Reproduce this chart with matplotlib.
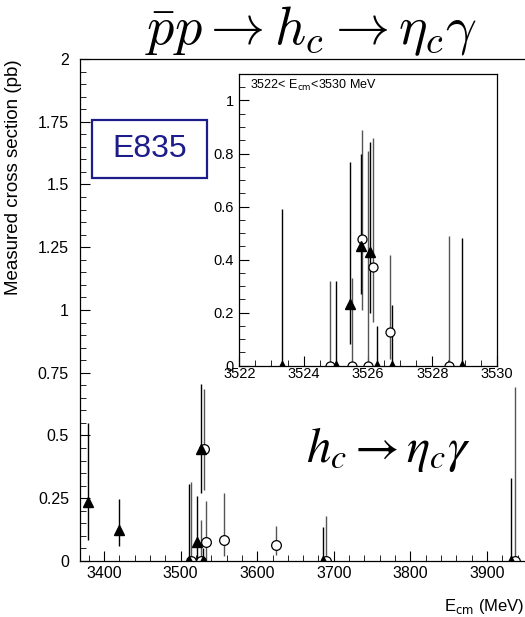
import numpy as np
import matplotlib
matplotlib.use("Agg")
import matplotlib.pyplot as plt
from matplotlib.patches import Rectangle
from matplotlib.ticker import MultipleLocator, FuncFormatter

plt.rcParams['font.family'] = ['Liberation Sans', 'DejaVu Sans']
plt.rcParams['mathtext.fontset'] = 'cm'

# main plot, filled triangles: energy, value, error low, error high
tri_x = [3379.5, 3420, 3511, 3521, 3526.5, 3528.6, 3686, 3931]
tri_y = [0.236, 0.124, 0.0, 0.077, 0.446, 0.0, 0.0, 0.0]
tri_lo = [0.084, 0.061, 0.0, 0.0, 0.27, 0.0, 0.0, 0.0]
tri_hi = [0.549, 0.247, 0.307, 0.259, 0.705, 0.05, 0.137, 0.33]

# main plot, open circles
circ_x = [3514, 3526, 3530, 3533, 3557, 3625, 3690, 3937]
circ_y = [0.0, 0.0, 0.446, 0.074, 0.084, 0.062, 0.0, 0.0]
circ_lo = [0.0, 0.0, 0.283, 0.0, 0.02, 0.024, 0.0, 0.0]
circ_hi = [0.313, 0.163, 0.684, 0.24, 0.27, 0.139, 0.18, 0.694]

# inset 3522-3530 MeV, filled triangles
itri_x = [3523.32, 3524.99, 3525.44, 3525.77, 3526.06, 3526.27, 3526.75, 3528.93]
itri_y = [0.0, 0.0, 0.231, 0.45, 0.429, 0.0, 0.0, 0.0]
itri_lo = [0.0, 0.0, 0.08, 0.27, 0.2, 0.0, 0.0, 0.0]
itri_hi = [0.59, 0.32, 0.768, 0.797, 0.843, 0.15, 0.23, 0.482]

# inset, open circles
icirc_x = [3524.82, 3525.49, 3525.81, 3526.0, 3526.15, 3526.69, 3528.53]
icirc_y = [0.0, 0.0, 0.479, 0.0, 0.373, 0.128, 0.0]
icirc_lo = [0.0, 0.0, 0.21, 0.0, 0.166, 0.026, 0.0]
icirc_hi = [0.32, 0.33, 0.89, 0.81, 0.858, 0.417, 0.488]


def draw(ax, tx, ty, tlo, thi, cx, cy, clo, chi, ms):
    tx, ty, tlo, thi = map(np.array, (tx, ty, tlo, thi))
    cx, cy, clo, chi = map(np.array, (cx, cy, clo, chi))
    ax.errorbar(cx, cy, yerr=[cy - clo, chi - cy], fmt='none',
                ecolor='#555555', elinewidth=1.0, capsize=0)
    ax.errorbar(tx, ty, yerr=[ty - tlo, thi - ty], fmt='none',
                ecolor='black', elinewidth=1.0, capsize=0)
    ax.plot(cx, cy, 'o', ms=ms, mfc='white', mec='black', mew=0.9, ls='none')
    ax.plot(tx, ty, '^', ms=ms, color='black', ls='none')


def style(ax, size, pad):
    ax.tick_params(which='both', direction='in', top=False, right=False,
                   labelsize=size)
    ax.tick_params(axis='y', pad=pad)
    ax.tick_params(which='major', length=7)
    ax.tick_params(which='minor', length=4)
    for s in ax.spines.values():
        s.set_linewidth(0.9)


fig = plt.figure(figsize=(5.25, 6.17), dpi=100)

ax = fig.add_axes([0.1524, 0.0908, 0.857, 0.8136])
draw(ax, tri_x, tri_y, tri_lo, tri_hi, circ_x, circ_y, circ_lo, circ_hi, 7)
ax.set_xlim(3368.7, 3956)
ax.set_ylim(0, 2)
ax.xaxis.set_major_locator(MultipleLocator(100))
ax.xaxis.set_minor_locator(MultipleLocator(20))
ax.yaxis.set_major_locator(MultipleLocator(0.25))
ax.yaxis.set_minor_locator(MultipleLocator(0.05))
ax.yaxis.set_major_formatter(FuncFormatter(lambda v, p: f"{v:g}"))
style(ax, 11.5, 8)
ax.spines['right'].set_visible(False)
ax.set_ylabel('Measured cross section (pb)', fontsize=13.5)
ax.yaxis.set_label_coords(-0.13, 0.765)
ax.text(1.0 - 0.012, -0.09, r'E$_{\mathsf{cm}}$ (MeV)', transform=ax.transAxes,
        ha='right', va='center', fontsize=12, math_fontfamily='dejavusans')

# E835 box
fig.patches.append(Rectangle((0.176, 0.711), 0.218, 0.095, transform=fig.transFigure,
                             fc='white', ec='#1c1c8a', lw=1.6, zorder=5))
fig.text(0.285, 0.758, 'E835', fontsize=23, color='#1c1c8a', ha='center', va='center',
         zorder=6)

# titles
fig.text(0.593, 0.950, r'$\bar{p}p \rightarrow h_c \rightarrow \eta_c\gamma$',
         fontsize=39, ha='center', va='center')
fig.text(0.739, 0.272, r'$h_c \rightarrow \eta_c\gamma$', fontsize=35,
         ha='center', va='center', math_fontfamily='stix')

# inset
ins = fig.add_axes([0.4558, 0.4073, 0.4903, 0.4728])
draw(ins, itri_x, itri_y, itri_lo, itri_hi, icirc_x, icirc_y, icirc_lo, icirc_hi, 6.5)
ins.set_xlim(3522, 3530)
ins.set_ylim(0, 1.1)
ins.xaxis.set_major_locator(MultipleLocator(2))
ins.xaxis.set_minor_locator(MultipleLocator(0.5))
ins.yaxis.set_major_locator(MultipleLocator(0.2))
ins.yaxis.set_minor_locator(MultipleLocator(0.05))
ins.yaxis.set_major_formatter(FuncFormatter(lambda v, p: f"{v:g}"))
style(ins, 10.5, 4)
ins.tick_params(axis='x', pad=1)
ins.text(0.04, 0.96, r'3522< E$_{\mathsf{cm}}$<3530 MeV', transform=ins.transAxes,
         ha='left', va='center', fontsize=9, math_fontfamily='dejavusans')

fig.savefig('out.png', dpi=100)
